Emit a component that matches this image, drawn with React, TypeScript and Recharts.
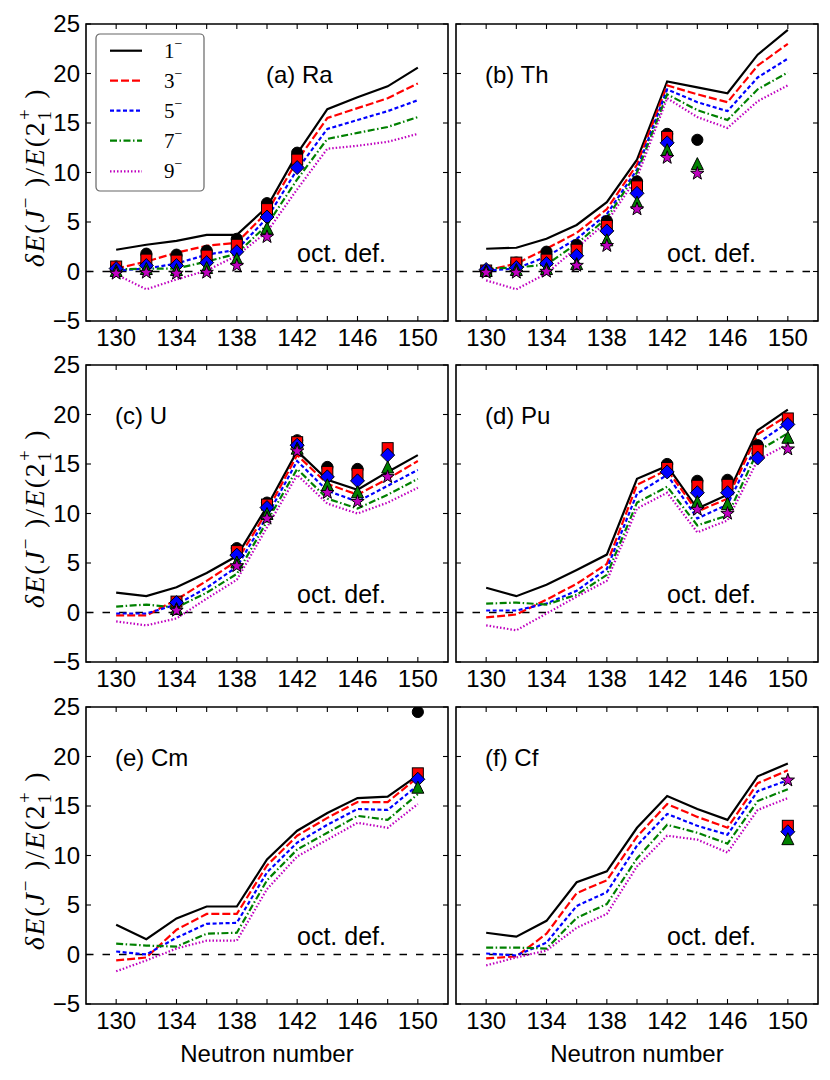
import React from 'react';
import { ComposedChart, Line, XAxis, YAxis, ReferenceLine, ReferenceArea, Legend } from 'recharts';

const N = null;

// Neutron numbers (x values), axis domains and ticks
const neutrons = [130, 132, 134, 136, 138, 140, 142, 144, 146, 148, 150];
const xDomain = [128, 152];
const yDomain = [-5, 25];
const xTicks = [130, 132, 134, 136, 138, 140, 142, 144, 146, 148, 150];
const xTickLabels = [130, 134, 138, 142, 146, 150];
const yTicks = [-5, 0, 5, 10, 15, 20, 25];
const spinLabels = ['1', '3', '5', '7', '9'];

// ---- (a) Ra ----  rows: J = 1-, 3-, 5-, 7-, 9-
const raTheory = [
  [2.2, 2.7, 3.1, 3.7, 3.7, 6.5, 11.9, 16.4, 17.6, 18.7, 20.6],
  [0.3, 1.0, 1.9, 2.6, 2.9, 6.0, 11.2, 15.5, 16.5, 17.5, 19.0],
  [0.1, 0.3, 0.8, 1.7, 2.2, 5.4, 10.3, 14.4, 15.3, 16.2, 17.3],
  [0.2, 0.3, 0.3, 1.0, 1.8, 4.7, 9.3, 13.4, 14.0, 14.6, 15.6],
  [-0.3, -1.8, -0.8, 0.1, 1.6, 4.0, 8.3, 12.4, 12.7, 13.1, 13.9],
];
const raExp = [
  [0.5, 1.8, 1.7, 2.1, 3.3, 6.9, 12.0, N, N, N, N],
  [0.5, 1.2, 1.1, 1.6, 2.7, 6.3, 11.3, N, N, N, N],
  [0.3, 0.6, 0.6, 0.9, 2.0, 5.5, 10.5, N, N, N, N],
  [0.1, 0.3, 0.2, 0.4, 1.3, 4.4, N, N, N, N, N],
  [-0.2, -0.1, -0.2, -0.1, 0.6, 3.5, N, N, N, N, N],
];

// ---- (b) Th ----
const thTheory = [
  [2.3, 2.4, 3.3, 4.7, 7.0, 11.3, 19.2, 18.6, 18.0, 21.9, 24.4],
  [0.1, 0.8, 2.3, 3.9, 6.3, 10.8, 18.8, 17.9, 17.1, 20.8, 23.0],
  [0.1, 0.3, 1.5, 3.3, 5.8, 10.3, 18.4, 17.1, 16.2, 19.6, 21.5],
  [0.3, 0.4, 0.7, 2.8, 5.4, 10.0, 17.9, 16.3, 15.3, 18.4, 20.1],
  [-0.9, -1.8, -0.2, 2.4, 5.0, 9.5, 17.5, 15.6, 14.5, 17.2, 18.8],
];
const thExp = [
  [0.1, 0.9, 2.0, 2.7, 5.1, 9.1, 13.9, 13.3, N, N, N],
  [0.1, 0.9, 1.2, 2.2, 4.6, 8.6, 13.6, N, N, N, N],
  [0.2, 0.4, 0.8, 1.6, 4.1, 7.9, 13.0, N, N, N, N],
  [0.1, 0.2, 0.3, 0.8, 3.2, 7.0, 12.3, 10.9, N, N, N],
  [-0.1, -0.1, 0.0, 0.6, 2.6, 6.3, 11.5, 9.9, N, N, N],
];

// ---- (c) U ----
const uTheory = [
  [2.0, 1.65, 2.55, 4.0, 5.7, 10.7, 16.3, 13.4, 12.4, 14.2, 15.9],
  [-0.3, -0.3, 1.3, 3.2, 5.2, 10.2, 15.9, 13.0, 11.9, 13.5, 15.3],
  [-0.1, -0.1, 0.8, 2.5, 4.6, 9.7, 15.3, 12.3, 11.2, 12.8, 14.4],
  [0.6, 0.8, 0.5, 2.0, 3.9, 9.2, 14.5, 11.5, 10.5, 11.9, 13.5],
  [-0.9, -1.3, -0.6, 1.4, 3.3, 8.6, 13.9, 11.0, 10.0, 11.1, 12.6],
];
const uExp = [
  [N, N, 1.0, N, 6.5, 11.1, 17.4, 14.7, 14.5, N, N],
  [N, N, 1.1, N, 6.2, 10.9, 17.2, 14.2, 14.0, 16.6, N],
  [N, N, 1.0, N, 5.8, 10.6, 16.9, 13.7, 13.3, 15.9, N],
  [N, N, 0.4, N, 5.1, 10.0, 16.6, 12.9, 12.2, 14.7, N],
  [N, N, 0.2, N, 4.7, 9.5, 16.3, 12.1, 11.2, 13.7, N],
];

// ---- (d) Pu ----
const puTheory = [
  [2.5, 1.65, 2.8, 4.3, 5.85, 13.5, 14.8, 10.5, 11.9, 18.4, 20.5],
  [-0.5, -0.2, 1.3, 2.9, 4.9, 12.9, 14.4, 10.2, 11.5, 18.0, 19.9],
  [0.2, 0.2, 0.9, 2.2, 4.4, 12.0, 13.9, 9.5, 10.9, 17.1, 19.2],
  [0.9, 1.0, 0.8, 1.8, 3.8, 11.1, 12.7, 8.8, 9.8, 16.3, 18.1],
  [-1.3, -1.8, -0.1, 1.6, 3.2, 10.5, 12.1, 8.1, 9.3, 15.4, 17.0],
];
const puExp = [
  [N, N, N, N, N, N, 15.0, 13.3, 13.4, 16.9, N],
  [N, N, N, N, N, N, 14.6, 12.8, 12.9, 16.4, 19.6],
  [N, N, N, N, N, N, 14.2, 12.1, 12.1, 15.6, 19.0],
  [N, N, N, N, N, N, N, 11.2, 11.0, N, 17.7],
  [N, N, N, N, N, N, N, 10.4, 10.0, N, 16.5],
];

// ---- (e) Cm ----
const cmTheory = [
  [3.0, 1.55, 3.65, 4.85, 4.85, 9.6, 12.5, 14.3, 15.8, 15.95, 18.1],
  [-0.6, -0.3, 2.5, 4.1, 4.1, 9.0, 12.0, 13.8, 15.4, 15.4, 17.9],
  [0.3, 0.0, 1.7, 3.1, 3.2, 8.3, 11.3, 13.1, 14.7, 14.6, 17.1],
  [1.1, 0.9, 0.8, 2.1, 2.2, 7.5, 10.6, 12.3, 14.0, 13.6, 16.2],
  [-1.7, -0.6, 0.6, 1.4, 1.4, 6.6, 9.9, 11.6, 13.3, 12.8, 15.2],
];
const cmExp = [
  [N, N, N, N, N, N, N, N, N, N, 24.5],
  [N, N, N, N, N, N, N, N, N, N, 18.3],
  [N, N, N, N, N, N, N, N, N, N, 17.7],
  [N, N, N, N, N, N, N, N, N, N, 16.9],
  [N, N, N, N, N, N, N, N, N, N, N],
];

// ---- (f) Cf ----
const cfTheory = [
  [2.2, 1.8, 3.4, 7.3, 8.4, 12.8, 16.0, 14.7, 13.6, 18.0, 19.3],
  [-0.4, -0.2, 2.1, 6.2, 7.5, 11.9, 15.2, 13.9, 12.8, 17.3, 18.6],
  [0.1, -0.1, 1.2, 4.9, 6.3, 11.0, 14.2, 13.0, 12.1, 16.5, 17.6],
  [0.7, 0.7, 0.6, 3.7, 5.1, 9.7, 13.1, 12.3, 11.2, 15.5, 16.7],
  [-1.1, -0.3, 0.4, 2.7, 4.1, 8.9, 12.0, 11.6, 10.3, 14.6, 15.8],
];
const cfExp = [
  [N, N, N, N, N, N, N, N, N, N, N],
  [N, N, N, N, N, N, N, N, N, N, 13.0],
  [N, N, N, N, N, N, N, N, N, N, 12.4],
  [N, N, N, N, N, N, N, N, N, N, 11.7],
  [N, N, N, N, N, N, N, N, N, N, 17.6],
];

// ---- styles ----
const COLORS = ['#000000', '#ff0000', '#0000ff', '#008000', '#bf00bf'];
const DASHES = [undefined, '8 3', '4 2.5', '7 2.5 1.5 2.5', '1.5 2'];
const MARKERS = ['circle', 'square', 'diamond', 'triangle', 'star'];
const SANS = "'Liberation Sans', Arial, Helvetica, sans-serif";
const SERIF = "'Liberation Serif', 'DejaVu Serif', serif";

const PLOT_W = 362;
const PLOT_H = 297;
const COL_X = [86, 456];
const ROW_Y = [24, 365, 707];
const TICK_LEN = 5;

function Marker({ kind, cx, cy, color }: { kind: string; cx: number; cy: number; color: string }) {
  const common = { fill: color, stroke: '#000', strokeWidth: 1 };
  if (kind === 'circle') return <circle cx={cx} cy={cy} r={5.6} {...common} />;
  if (kind === 'square') return <rect x={cx - 5.5} y={cy - 5.5} width={11} height={11} {...common} />;
  if (kind === 'diamond') {
    const d = 7;
    return <polygon points={`${cx},${cy - d} ${cx + d},${cy} ${cx},${cy + d} ${cx - d},${cy}`} {...common} />;
  }
  if (kind === 'triangle') {
    const t = 6;
    return <polygon points={`${cx},${cy - t} ${cx + t},${cy + t} ${cx - t},${cy + t}`} {...common} />;
  }
  const pts: string[] = [];
  for (let k = 0; k < 10; k++) {
    const r = k % 2 === 0 ? 7 : 2.8;
    const a = -Math.PI / 2 + (k * Math.PI) / 5;
    pts.push(`${cx + r * Math.cos(a)},${cy + r * Math.sin(a)}`);
  }
  return <polygon points={pts.join(' ')} {...common} />;
}

function makeDot(kind: string, color: string) {
  return (props: any) => {
    const { cx, cy, value, index } = props;
    if (value == null || cy == null || !Number.isFinite(cy) || !Number.isFinite(cx)) {
      return <g key={`d-${index}`} />;
    }
    return <Marker key={`d-${index}`} kind={kind} cx={cx} cy={cy} color={color} />;
  };
}

function YLabel(props: any) {
  const vb = props.viewBox || { x: 26, y: 16, width: 60, height: PLOT_H };
  const bx = vb.x + 18;
  const cy = vb.y + vb.height / 2 + 5;
  return (
    <text
      transform={`translate(${bx},${cy}) rotate(-90)`}
      textAnchor="middle"
      fontFamily={SERIF}
      fontSize={28}
      letterSpacing={1.8}
      fill="#000"
    >
      <tspan fontStyle="italic">δE</tspan>
      <tspan>(</tspan>
      <tspan fontStyle="italic">J</tspan>
      <tspan fontSize={19} dy={-12}>−</tspan>
      <tspan dy={12}>{'\u00a0)/'}</tspan>
      <tspan fontStyle="italic">E</tspan>
      <tspan>(2</tspan>
      <tspan fontSize={19} dy={7}>1</tspan>
      <tspan fontSize={19} dx={-11} dy={-20}>+</tspan>
      <tspan dy={13}>{'\u00a0)'}</tspan>
    </text>
  );
}

function XLabel(props: any) {
  const vb = props.viewBox || { x: 86, y: 313, width: PLOT_W, height: 70 };
  return (
    <text x={vb.x + vb.width / 2} y={vb.y + 58} textAnchor="middle" fontFamily={SANS} fontSize={24} fill="#000">
      Neutron number
    </text>
  );
}

function LegendBox() {
  const rowsY = [17.7, 47.7, 77.7, 107.7, 138.3];
  return (
    <svg width={110} height={159} style={{ display: 'block' }}>
      <rect x={1} y={1} width={108} height={157} rx={4} ry={4} fill="#fff" stroke="#666" strokeWidth={1.2} />
      {spinLabels.map((s, i) => (
        <g key={s}>
          <line
            x1={15}
            x2={47}
            y1={rowsY[i]}
            y2={rowsY[i]}
            stroke={COLORS[i]}
            strokeWidth={2.2}
            strokeDasharray={DASHES[i]}
          />
          <text x={69} y={rowsY[i] + 7} fontFamily={SERIF} fontSize={21} fill="#000">
            {s}
            <tspan fontSize={14} dy={-10}>−</tspan>
          </text>
        </g>
      ))}
    </svg>
  );
}

type PanelProps = {
  title: string;
  theory: number[][];
  exp: (number | null)[][];
  col: number;
  row: number;
  legend?: boolean;
};

function Panel({ title, theory, exp, col, row, legend }: PanelProps) {
  const isLeft = col === 0;
  const isBottom = row === 2;
  const ml = isLeft ? 26 : 3;
  const yw = isLeft ? 60 : 1;
  const mt = 16;
  const mr = 6;
  const mb = 2;
  const xh = isBottom ? 70 : 30;
  const left = COL_X[col] - ml - yw;
  const top = ROW_Y[row] - mt;
  const width = ml + yw + PLOT_W + mr;
  const height = mt + PLOT_H + xh + mb;
  const plotLeft = ml + yw;
  const plotTop = mt;
  const plotRight = plotLeft + PLOT_W;
  const plotBottom = plotTop + PLOT_H;

  const data = neutrons.map((n, i) => {
    const r: any = { n };
    theory.forEach((s, j) => (r['t' + j] = s[i]));
    exp.forEach((s, j) => (r['e' + j] = s[i]));
    return r;
  });

  // x tick: inward marks on bottom and top edges, label below
  const renderXTick = (p: any) => {
    const x = p.x;
    const v = p.payload?.value;
    return (
      <g>
        <line x1={x} x2={x} y1={plotBottom} y2={plotBottom - TICK_LEN} stroke="#000" strokeWidth={1.1} />
        <line x1={x} x2={x} y1={plotTop} y2={plotTop + TICK_LEN} stroke="#000" strokeWidth={1.1} />
        {xTickLabels.includes(v) && (
          <text x={x} y={plotBottom + 24.5} textAnchor="middle" fontFamily={SANS} fontSize={24} fill="#000">
            {String(v)}
          </text>
        )}
      </g>
    );
  };

  // y tick: inward marks on left and right edges, label on the left column only
  const renderYTick = (p: any) => {
    const y = p.y;
    const v = p.payload?.value;
    return (
      <g>
        <line x1={plotLeft} x2={plotLeft + TICK_LEN} y1={y} y2={y} stroke="#000" strokeWidth={1.1} />
        <line x1={plotRight} x2={plotRight - TICK_LEN} y1={y} y2={y} stroke="#000" strokeWidth={1.1} />
        {isLeft && (
          <text x={plotLeft - 6} y={y + 8} textAnchor="end" fontFamily={SANS} fontSize={24} fill="#000">
            {v < 0 ? '\u2212' + Math.abs(v) : String(v)}
          </text>
        )}
      </g>
    );
  };

  return (
    <div style={{ position: 'absolute', left, top, width, height }}>
      <ComposedChart width={width} height={height} data={data} margin={{ top: mt, right: mr, bottom: mb, left: ml }}>
        <XAxis
          dataKey="n"
          type="number"
          domain={xDomain}
          allowDataOverflow
          ticks={xTicks}
          interval={0}
          height={xh}
          tick={renderXTick}
          axisLine={false}
          tickLine={false}
          label={isBottom ? { content: (p: any) => <XLabel {...p} /> } : undefined}
        />
        <YAxis
          type="number"
          domain={yDomain}
          allowDataOverflow
          ticks={yTicks}
          interval={0}
          width={yw}
          tick={renderYTick}
          axisLine={false}
          tickLine={false}
          label={isLeft ? { content: (p: any) => <YLabel {...p} /> } : undefined}
        />
        <ReferenceArea
          x1={xDomain[0]}
          x2={xDomain[1]}
          y1={yDomain[0]}
          y2={yDomain[1]}
          fill="none"
          stroke="#000"
          strokeWidth={1.6}
          ifOverflow="visible"
        />
        <ReferenceLine y={0} stroke="#000" strokeWidth={1.5} strokeDasharray="7.5 9" />
        {theory.map((_, j) => (
          <Line
            key={'t' + j}
            dataKey={'t' + j}
            type="linear"
            stroke={COLORS[j]}
            strokeWidth={2.2}
            strokeDasharray={DASHES[j]}
            dot={false}
            activeDot={false}
            isAnimationActive={false}
          />
        ))}
        {exp.map((_, j) => (
          <Line
            key={'e' + j}
            dataKey={'e' + j}
            type="linear"
            stroke="none"
            dot={makeDot(MARKERS[j], COLORS[j])}
            activeDot={false}
            isAnimationActive={false}
          />
        ))}
        {legend && (
          <Legend
            layout="vertical"
            align="center"
            verticalAlign="middle"
            wrapperStyle={{ left: 95 - left, top: 33 - top, width: 110, height: 159 }}
            content={() => <LegendBox />}
          />
        )}
      </ComposedChart>
      <div
        style={{
          position: 'absolute',
          left: plotLeft + (legend ? 180 : 29),
          top: plotTop + 38.5,
          fontFamily: SANS,
          fontSize: 24,
          lineHeight: '24px',
          whiteSpace: 'nowrap',
          color: '#000',
        }}
      >
        {title}
      </div>
      <div
        style={{
          position: 'absolute',
          left: plotLeft + 211,
          top: plotTop + 216.5,
          fontFamily: SANS,
          fontSize: 25,
          lineHeight: '25px',
          whiteSpace: 'nowrap',
          color: '#000',
        }}
      >
        oct. def.
      </div>
    </div>
  );
}

export default function App() {
  return (
    <div style={{ position: 'absolute', left: 0, top: 0, width: 830, height: 1080, background: '#fff' }}>
      <Panel title="(a) Ra" theory={raTheory} exp={raExp} col={0} row={0} legend />
      <Panel title="(b) Th" theory={thTheory} exp={thExp} col={1} row={0} />
      <Panel title="(c) U" theory={uTheory} exp={uExp} col={0} row={1} />
      <Panel title="(d) Pu" theory={puTheory} exp={puExp} col={1} row={1} />
      <Panel title="(e) Cm" theory={cmTheory} exp={cmExp} col={0} row={2} />
      <Panel title="(f) Cf" theory={cfTheory} exp={cfExp} col={1} row={2} />
    </div>
  );
}
